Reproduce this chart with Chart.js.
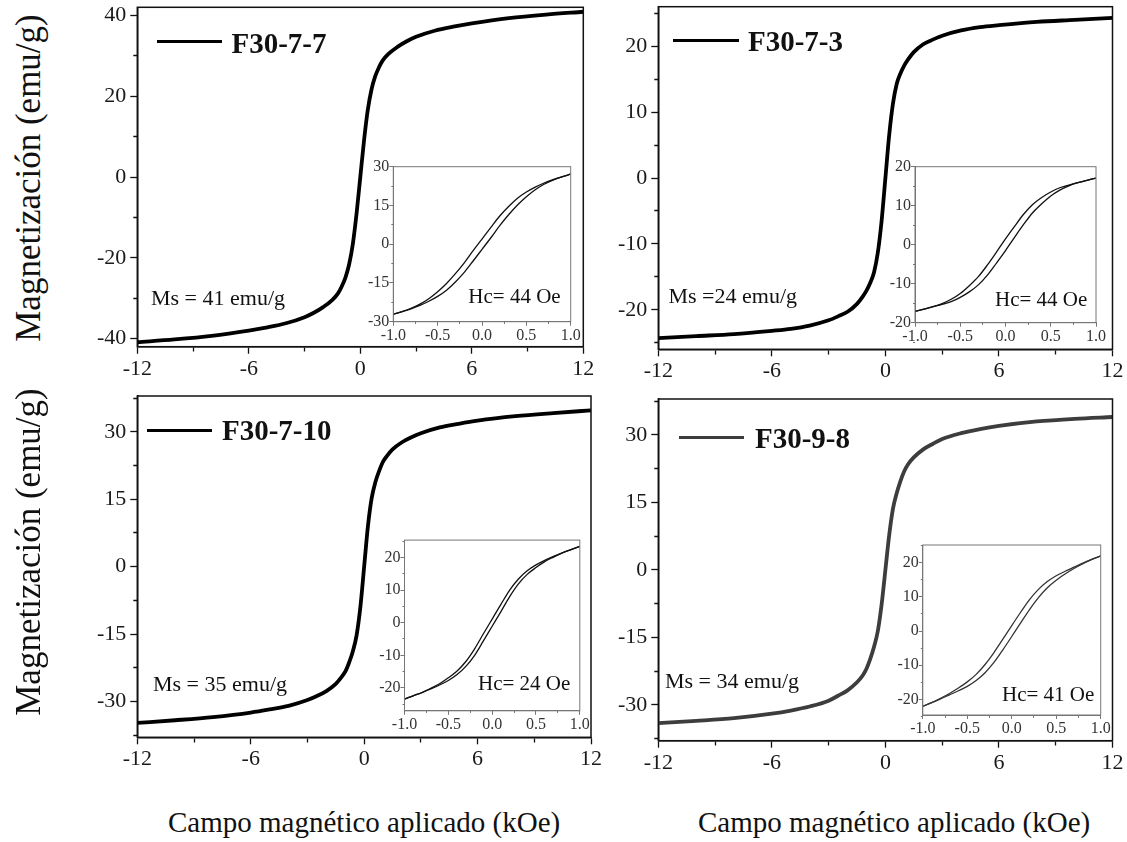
<!DOCTYPE html>
<html>
<head>
<meta charset="utf-8">
<script src="https://cdn.jsdelivr.net/npm/chart.js@4.4.0/dist/chart.umd.min.js"></script>
<style>
  html, body { margin: 0; padding: 0; background: #fff; }
  #fig { position: relative; width: 1127px; height: 842px; overflow: hidden; background: #fff; }
  #fig canvas { position: absolute; }
  .t { position: absolute; white-space: nowrap; line-height: 1; color: #111;
       font-family: 'Liberation Serif', 'Times New Roman', Times, 'DejaVu Serif', serif; }
  .key { position: absolute; height: 3px; }
</style>
</head>
<body>
<div id="fig"></div>
<script>
// ---- data ----
var sampleNames = ['F30-7-7', 'F30-7-3', 'F30-7-10', 'F30-9-8'];
var msLabels = ['Ms = 41 emu/g', 'Ms =24 emu/g', 'Ms = 35 emu/g', 'Ms = 34 emu/g'];
var hcLabels = ['Hc= 44 Oe', 'Hc= 44 Oe', 'Hc= 24 Oe', 'Hc= 41 Oe'];
var yTitle = 'Magnetización (emu/g)';
var xTitle = 'Campo magnético aplicado (kOe)';

// main loops, field in kOe
var fieldMain = [-12, -10, -8, -6, -5, -4, -3, -2.5, -2, -1.5, -1.2, -1, -0.8, -0.6, -0.4, -0.2, 0,
                 0.2, 0.4, 0.6, 0.8, 1, 1.2, 1.5, 2, 2.5, 3, 4, 5, 6, 8, 10, 12];
var magF3077 = [-40.9, -40.2, -39.3, -38.0, -37.2, -36.2, -34.7, -33.6, -32.2, -30.4, -28.8, -27.1, -24.9, -21.6, -16.5, -9.0, 0,
                9.0, 16.5, 21.6, 24.9, 27.1, 28.8, 30.4, 32.2, 33.6, 34.7, 36.2, 37.2, 38.0, 39.3, 40.2, 40.9];
var magF3073 = [-24.3, -24.0, -23.7, -23.2, -22.9, -22.4, -21.6, -21.0, -20.3, -19.1, -18.0, -17.1, -15.9, -14.3, -11.3, -6.5, 0,
                6.5, 11.3, 14.3, 15.9, 17.1, 18.0, 19.1, 20.3, 21.0, 21.6, 22.4, 22.9, 23.2, 23.7, 24.0, 24.3];
var magF30710 = [-34.8, -34.2, -33.5, -32.5, -31.8, -31.0, -29.7, -28.8, -27.7, -26.1, -24.6, -23.4, -21.4, -18.9, -15.3, -9.0, 0,
                 9.0, 15.3, 18.9, 21.4, 23.4, 24.6, 26.1, 27.7, 28.8, 29.7, 31.0, 31.8, 32.5, 33.5, 34.2, 34.8];
var magF3098 = [-34.1, -33.6, -33.0, -32.0, -31.3, -30.4, -29.1, -28.0, -26.8, -25.0, -23.5, -22.0, -19.8, -17.1, -13.6, -7.7, 0,
                7.7, 13.6, 17.1, 19.8, 22.0, 23.5, 25.0, 26.8, 28.0, 29.1, 30.4, 31.3, 32.0, 33.0, 33.6, 34.0];

// inset loops (-1..1 kOe), descending and ascending branches
var fieldLoop = [-1, -0.9, -0.8, -0.7, -0.6, -0.5, -0.4, -0.3, -0.2, -0.1, 0, 0.1, 0.2, 0.3, 0.4, 0.5, 0.6, 0.7, 0.8, 0.9, 1];
var downF3077 = [-27.1, -26.1, -24.8, -23.2, -21.1, -18.4, -15.2, -11.4, -7.2, -2.5, 2.0, 6.5, 10.9, 14.6, 17.8, 20.2, 22.1, 23.7, 25.0, 26.1, 27.1];
var upF3077   = [-27.1, -26.1, -25.0, -23.7, -22.1, -20.2, -17.8, -14.6, -10.9, -6.5, -2.0, 2.5, 7.2, 11.4, 15.2, 18.4, 21.1, 23.2, 24.8, 26.1, 27.1];
var downF3073 = [-17.1, -16.5, -15.9, -15.1, -14.0, -12.5, -10.5, -8.2, -5.2, -1.9, 1.5, 4.7, 7.8, 10.3, 12.1, 13.5, 14.6, 15.3, 15.9, 16.5, 17.1];
var upF3073   = [-17.1, -16.5, -15.9, -15.3, -14.6, -13.5, -12.1, -10.3, -7.8, -4.7, -1.5, 1.9, 5.2, 8.2, 10.5, 12.5, 14.0, 15.1, 15.9, 16.5, 17.1];
var downF30710 = [-23.4, -22.4, -21.4, -20.1, -18.7, -16.9, -14.8, -11.9, -8.0, -3.4, 1.1, 5.6, 10.0, 13.4, 15.9, 17.7, 19.1, 20.3, 21.4, 22.4, 23.4];
var upF30710   = [-23.4, -22.4, -21.4, -20.3, -19.1, -17.7, -15.9, -13.4, -10.0, -5.6, -1.1, 3.4, 8.0, 11.9, 14.8, 16.9, 18.7, 20.1, 21.4, 22.4, 23.4];
var downF3098 = [-22.0, -21.0, -19.7, -18.3, -16.7, -14.9, -12.7, -9.8, -6.3, -2.4, 1.6, 5.5, 9.2, 12.2, 14.5, 16.2, 17.5, 18.7, 19.9, 21.0, 22.0];
var upF3098   = [-22.0, -21.0, -19.9, -18.7, -17.5, -16.2, -14.5, -12.2, -9.2, -5.5, -1.6, 2.4, 6.3, 9.8, 12.7, 14.9, 16.7, 18.3, 19.7, 21.0, 22.0];

// ticks (minor ones carry no label)
var xMainTicks = [-12, -9, -6, -3, 0, 3, 6, 9, 12];
var xMainLabels = [-12, -6, 0, 6, 12];
var yTicksF3077 = [-40, -30, -20, -10, 0, 10, 20, 30, 40];
var yLabelsF3077 = [-40, -20, 0, 20, 40];
var yTicksF3073 = [-25, -20, -15, -10, -5, 0, 5, 10, 15, 20, 25];
var yLabelsF3073 = [-20, -10, 0, 10, 20];
var yTicks15 = [-37.5, -30, -22.5, -15, -7.5, 0, 7.5, 15, 22.5, 30, 37.5];
var yLabels15 = [-30, -15, 0, 15, 30];
var xLoopTicks = [-1, -0.75, -0.5, -0.25, 0, 0.25, 0.5, 0.75, 1];
var xLoopLabels = [-1, -0.5, 0, 0.5, 1];
var yLoopTicks30 = [-30, -22.5, -15, -7.5, 0, 7.5, 15, 22.5, 30];
var yLoopLabels30 = [-30, -15, 0, 15, 30];
var yLoopTicks20 = [-25, -20, -15, -10, -5, 0, 5, 10, 15, 20, 25];
var yLoopLabels20 = [-20, -10, 0, 10, 20];

var SERIF = "'Liberation Serif', 'Times New Roman', Times, 'DejaVu Serif', serif";
var fig = document.getElementById('fig');

function pts(xs, ys) {
  return xs.map(function(x, i) { return { x: x, y: ys[i] }; });
}

var framePlugin = {
  id: 'frame',
  afterDatasetsDraw: function(chart, args, opts) {
    var a = chart.chartArea, ctx = chart.ctx;
    ctx.save();
    ctx.strokeStyle = opts.color;
    ctx.lineWidth = opts.width;
    ctx.strokeRect(a.left, a.top, a.right - a.left, a.bottom - a.top);
    ctx.restore();
  }
};

// one panel (main plot or inset); box = wanted plot-area edges in page pixels
function drawPlot(p) {
  var cl = p.canvasLeft;
  var ct = Math.round(p.box.t - p.padTop);
  var w = Math.round(p.box.r + p.padRight - cl);
  var h = Math.round(p.box.b + p.xH - ct);
  var yW = p.box.l - cl;
  var xH = ct + h - p.box.b;
  var padTop = p.box.t - ct;
  var padRight = cl + w - p.box.r;

  var c = document.createElement('canvas');
  c.width = w; c.height = h;
  c.style.left = cl + 'px'; c.style.top = ct + 'px';
  c.style.width = w + 'px'; c.style.height = h + 'px';
  fig.appendChild(c);

  function axis(min, max, tickVals, labelVals, fmt, isX) {
    var isMinor = function(ctx) { return !ctx.tick || labelVals.indexOf(ctx.tick.value) < 0; };
    return {
      type: 'linear', min: min, max: max,
      afterBuildTicks: function(sc) { sc.ticks = tickVals.map(function(v) { return { value: v }; }); },
      afterFit: function(sc) { if (isX) sc.height = xH; else sc.width = yW; },
      grid: {
        drawOnChartArea: false, drawTicks: true, tickLength: p.tickLen,
        tickColor: p.axisColor, tickWidth: p.tickWidth,
        // minor ticks: only the part next to the axis is drawn
        tickBorderDash: function(ctx) {
          if (!isMinor(ctx)) return [];
          return isX ? [p.minorLen, 100] : [0, p.tickLen - p.minorLen, p.minorLen, 100];
        }
      },
      border: { display: true, color: p.axisColor, width: p.frameWidth },
      ticks: {
        autoSkip: false, maxRotation: 0, padding: isX ? p.xPad : p.yPad,
        color: p.labelColor, font: { family: SERIF, size: p.tickSize },
        callback: function(v) { return labelVals.indexOf(v) >= 0 ? fmt(v) : ''; }
      }
    };
  }

  return new Chart(c, {
    type: 'line',
    data: {
      datasets: p.series.map(function(s) {
        return {
          data: pts(s.x, s.y),
          borderColor: p.lineColor,
          borderWidth: p.lineWidth,
          pointRadius: 0,
          fill: false,
          cubicInterpolationMode: 'monotone'
        };
      })
    },
    options: {
      responsive: false,
      animation: false,
      events: [],
      font: { family: SERIF },
      layout: { padding: { top: padTop, right: padRight, left: 0, bottom: 0 } },
      plugins: { legend: { display: false }, tooltip: { enabled: false },
                 frame: { color: p.axisColor, width: p.frameWidth } },
      scales: {
        x: axis(p.xMin, p.xMax, p.xTicks, p.xLabels, p.xFmt, true),
        y: axis(p.yMin, p.yMax, p.yTicks, p.yLabels, String, false)
      }
    },
    plugins: [framePlugin]
  });
}

var mainFmt = function(v) { return String(v); };
var loopFmt = function(v) { return v.toFixed(1); };

function mainPanel(box, canvasLeft, yMin, yMax, yTicks, yLabels, ys, color) {
  drawPlot({
    box: box, canvasLeft: canvasLeft, padTop: 20, padRight: 20, xH: 45,
    xMin: -12, xMax: 12, xTicks: xMainTicks, xLabels: xMainLabels, xFmt: mainFmt,
    yMin: yMin, yMax: yMax, yTicks: yTicks, yLabels: yLabels,
    tickSize: 22, tickLen: 7, minorLen: 4, tickWidth: 1.3, xPad: 2, yPad: 4,
    axisColor: '#111', labelColor: '#1a1a1a', frameWidth: 1.5,
    lineColor: color, lineWidth: 3.8,
    series: [{ x: fieldMain, y: ys }]
  });
}

function insetPanel(box, yMin, yMax, yTicks, yLabels, down, up, color) {
  drawPlot({
    box: box, canvasLeft: Math.round(box.l - 32), padTop: 12, padRight: 16, xH: 22,
    xMin: -1, xMax: 1, xTicks: xLoopTicks, xLabels: xLoopLabels, xFmt: loopFmt,
    yMin: yMin, yMax: yMax, yTicks: yTicks, yLabels: yLabels,
    tickSize: 16, tickLen: 4, minorLen: 2, tickWidth: 1, xPad: 0, yPad: 0,
    axisColor: '#777', labelColor: '#333', frameWidth: 1,
    lineColor: color, lineWidth: 1.3,
    series: [{ x: fieldLoop, y: down }, { x: fieldLoop, y: up }]
  });
}

// main panels
mainPanel({ l: 137.3, r: 583.3, t: 7.3, b: 346.7 }, 60, -42, 42, yTicksF3077, yLabelsF3077, magF3077, '#000');
mainPanel({ l: 658.3, r: 1112.5, t: 6.7, b: 349.3 }, 600, -26, 26, yTicksF3073, yLabelsF3073, magF3073, '#000');
mainPanel({ l: 137.3, r: 591, t: 396, b: 737.3 }, 60, -38, 38, yTicks15, yLabels15, magF30710, '#000');
mainPanel({ l: 658.3, r: 1112.5, t: 399, b: 740.7 }, 600, -38, 38, yTicks15, yLabels15, magF3098, '#3d3d3d');

// insets
insetPanel({ l: 393.3, r: 570.7, t: 166.7, b: 321.7 }, -30, 30, yLoopTicks30, yLoopLabels30, downF3077, upF3077, '#111');
insetPanel({ l: 915, r: 1096, t: 166.7, b: 322.7 }, -20, 20, yLoopTicks20, yLoopLabels20, downF3073, upF3073, '#111');
insetPanel({ l: 404.5, r: 579.8, t: 540.1, b: 710.8 }, -27, 25.3, yLoopTicks20, yLoopLabels20, downF30710, upF30710, '#111');
insetPanel({ l: 922.8, r: 1100.7, t: 545, b: 715 }, -24.6, 25.2, yLoopTicks20, yLoopLabels20, downF3098, upF3098, '#333');

// titles, legends and annotations (HTML text)
function label(text, left, baseline, size, bold) {
  var d = document.createElement('div');
  d.className = 't';
  d.textContent = text;
  d.style.left = left + 'px';
  d.style.top = (baseline - 0.8375 * size) + 'px';
  d.style.fontSize = size + 'px';
  if (bold) d.style.fontWeight = 'bold';
  fig.appendChild(d);
  return d;
}
function sideTitle(text, cx, cy, size) {
  var d = document.createElement('div');
  d.className = 't';
  d.textContent = text;
  d.style.fontSize = size + 'px';
  d.style.left = cx + 'px';
  d.style.top = cy + 'px';
  d.style.transform = 'translate(-50%, -50%) rotate(-90deg)';
  fig.appendChild(d);
}
function keyLine(x1, x2, y, color) {
  var d = document.createElement('div');
  d.className = 'key';
  d.style.left = x1 + 'px';
  d.style.width = (x2 - x1) + 'px';
  d.style.top = (y - 1.5) + 'px';
  d.style.background = color;
  fig.appendChild(d);
}

sideTitle(yTitle, 28, 178, 35);
sideTitle(yTitle, 28, 552, 35);
label(xTitle, 168, 832, 29);
label(xTitle, 698, 832, 29);

keyLine(157, 222, 41.7, '#000');   label(sampleNames[0], 231.5, 53, 29, true);
keyLine(673, 739, 40, '#000');     label(sampleNames[1], 748, 51.7, 29, true);
keyLine(147, 212, 430.8, '#000');  label(sampleNames[2], 222, 440.7, 29, true);
keyLine(679, 744, 437, '#3d3d3d'); label(sampleNames[3], 755, 448, 29, true);

label(msLabels[0], 151, 305, 22);
label(msLabels[1], 668.5, 303, 22);
label(msLabels[2], 153, 691, 22);
label(msLabels[3], 665, 688, 22);

label(hcLabels[0], 468.3, 303.3, 21);
label(hcLabels[1], 995, 306.7, 21);
label(hcLabels[2], 478, 691, 21);
label(hcLabels[3], 1002, 701.7, 21);
</script>
</body>
</html>
